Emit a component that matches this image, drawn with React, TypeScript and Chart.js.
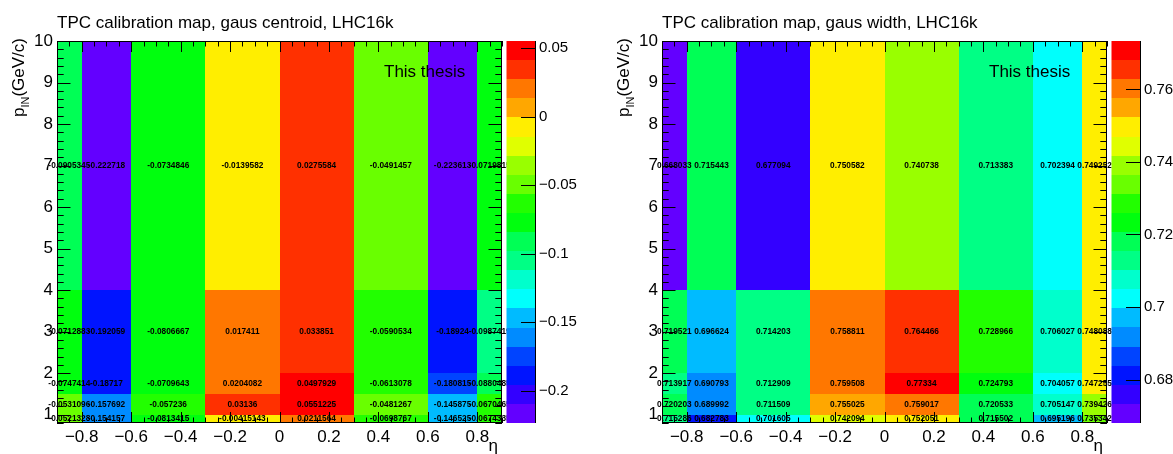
import React, { useEffect, useRef } from "react";
import { Chart, registerables } from "chart.js";

Chart.register(...registerables);

// ---- data ----
const etaEdges = [-0.9, -0.8, -0.6, -0.3, 0, 0.3, 0.6, 0.8, 0.9];
const pEdges = [0.8, 1, 1.5, 2, 4, 10];

// rows ordered from lowest p bin to highest, columns in eta order
const centroidRow0 = [-0.0521328, -0.154157, -0.0813415, -0.00415143, 0.0211564, -0.0698767, -0.146525, -0.0674335];
const centroidRow1 = [-0.0531096, -0.157692, -0.057236, 0.03136, 0.0551225, -0.0481267, -0.145875, -0.0670465];
const centroidRow2 = [-0.0747414, -0.18717, -0.0709643, 0.0204082, 0.0497929, -0.0613078, -0.180815, -0.0880485];
const centroidRow3 = [-0.0712883, -0.192059, -0.0806667, 0.017411, 0.033851, -0.0590534, -0.18924, -0.0987419];
const centroidRow4 = [-0.0905345, -0.222718, -0.0734846, -0.0139582, 0.0275584, -0.0491457, -0.223613, -0.0719815];

const widthRow0 = [0.715286, 0.682783, 0.701605, 0.742094, 0.752051, 0.715502, 0.695196, 0.735342];
const widthRow1 = [0.720203, 0.689992, 0.711509, 0.755025, 0.759017, 0.720533, 0.705147, 0.739426];
const widthRow2 = [0.713917, 0.690793, 0.712909, 0.759508, 0.77334, 0.724793, 0.704057, 0.747255];
const widthRow3 = [0.719521, 0.696624, 0.714203, 0.758811, 0.764466, 0.728966, 0.706027, 0.748088];
const widthRow4 = [0.668033, 0.715443, 0.677094, 0.750582, 0.740738, 0.713383, 0.702394, 0.749252];

const etaTicks = [-0.8, -0.6, -0.4, -0.2, 0, 0.2, 0.4, 0.6, 0.8];
const pTicks = [1, 2, 3, 4, 5, 6, 7, 8, 9, 10];
const centroidZTicks = [-0.2, -0.15, -0.1, -0.05, 0, 0.05];
const widthZTicks = [0.68, 0.7, 0.72, 0.74, 0.76];

const FONT = "'Liberation Sans', Arial, Helvetica, sans-serif";
const NCONT = 20;

function paletteColor(i: number) {
  const hue = 280 - (i + 1) * (280 / 50);
  return `hsl(${hue}, 100%, 50%)`;
}
function levelColor(k: number) {
  let idx = Math.floor((k + 0.99) * 50 / NCONT);
  if (idx > 49) idx = 49;
  if (idx < 0) idx = 0;
  return paletteColor(idx);
}
function zColor(z: number, zmin: number, zmax: number) {
  const k = Math.floor(0.01 + (z - zmin) * NCONT / (zmax - zmin));
  return levelColor(k);
}
function fmtG(v: number) {
  let s = v.toPrecision(6);
  if (s.indexOf(".") >= 0) s = s.replace(/0+$/, "").replace(/\.$/, "");
  return s;
}
function fmtTick(v: number) {
  const s = String(parseFloat(Number(v).toFixed(3)));
  return s === "-0" ? "0" : s.replace("-", "\u2212");
}

type PanelProps = {
  left: number;
  width: number;
  title: string;
  rows: number[][];
  zTicks: number[];
};

function Panel({ left, width, title, rows, zTicks }: PanelProps) {
  const ref = useRef<HTMLCanvasElement>(null);
  useEffect(() => {
    const all = rows.flat();
    const zmin = Math.min(...all);
    const zmax = Math.max(...all);
    const yAxisW = 57;
    const frameW = 445;
    const cbGap = 4.5;
    const cbW = 28.5;
    const zAxisW = width - yAxisW - frameW;

    const noPad = (s: any) => {
      s.paddingTop = 0;
      s.paddingBottom = 0;
      s.paddingLeft = 0;
      s.paddingRight = 0;
    };

    const drawPlugin = {
      id: "th2",
      afterDraw(chart: any) {
        const ctx = chart.ctx as CanvasRenderingContext2D;
        const ca = chart.chartArea;
        const xs = chart.scales.x;
        const ys = chart.scales.y;
        const zs = chart.scales.z;
        ctx.save();
        // cells
        for (let r = 0; r < rows.length; r++) {
          for (let c = 0; c < rows[r].length; c++) {
            const x0 = Math.round(xs.getPixelForValue(etaEdges[c]));
            const x1 = Math.round(xs.getPixelForValue(etaEdges[c + 1]));
            const y0 = Math.round(ys.getPixelForValue(pEdges[r + 1]));
            const y1 = Math.round(ys.getPixelForValue(pEdges[r]));
            ctx.fillStyle = zColor(rows[r][c], zmin, zmax);
            ctx.fillRect(x0, y0, x1 - x0, y1 - y0);
          }
        }
        // cell texts
        ctx.fillStyle = "#000";
        ctx.font = `bold 8.3px ${FONT}`;
        ctx.textAlign = "center";
        ctx.textBaseline = "middle";
        for (let r = 0; r < rows.length; r++) {
          for (let c = 0; c < rows[r].length; c++) {
            const xc = xs.getPixelForValue((etaEdges[c] + etaEdges[c + 1]) / 2);
            const yc = ys.getPixelForValue((pEdges[r] + pEdges[r + 1]) / 2);
            ctx.fillText(fmtG(rows[r][c]), xc, yc);
          }
        }
        // ticks
        ctx.strokeStyle = "#000";
        ctx.lineWidth = 1;
        ctx.beginPath();
        const xMaj = 11, xMin = 5.5, yMaj = 13.5, yMin = 6.7;
        for (let i = 0; i <= 36; i++) {
          const v = -0.9 + i * 0.05;
          const major = Math.abs(Math.round(v * 5) - v * 5) < 1e-6;
          const len = major ? xMaj : xMin;
          const px = Math.round(xs.getPixelForValue(v)) + 0.5;
          ctx.moveTo(px, ca.bottom);
          ctx.lineTo(px, ca.bottom - len);
          ctx.moveTo(px, ca.top);
          ctx.lineTo(px, ca.top + len);
        }
        for (let i = 0; i <= 46; i++) {
          const v = 0.8 + i * 0.2;
          const major = Math.abs(Math.round(v) - v) < 1e-6;
          const len = major ? yMaj : yMin;
          const py = Math.round(ys.getPixelForValue(v)) + 0.5;
          ctx.moveTo(ca.left, py);
          ctx.lineTo(ca.left + len, py);
          ctx.moveTo(ca.right, py);
          ctx.lineTo(ca.right - len, py);
        }
        ctx.stroke();
        // frame
        ctx.strokeRect(Math.round(ca.left) + 0.5, Math.round(ca.top) + 0.5,
          Math.round(ca.right) - Math.round(ca.left) - 1, Math.round(ca.bottom) - Math.round(ca.top) - 1);
        // colour bar
        const cbL = ca.right + cbGap;
        const cbR = cbL + cbW;
        const dz = (zmax - zmin) / NCONT;
        for (let k = 0; k < NCONT; k++) {
          const yTop = zs.getPixelForValue(zmin + (k + 1) * dz);
          const yBot = zs.getPixelForValue(zmin + k * dz);
          ctx.fillStyle = levelColor(k);
          ctx.fillRect(cbL, Math.round(yTop), cbW, Math.round(yBot) - Math.round(yTop));
        }
        ctx.beginPath();
        ctx.moveTo(Math.round(cbR) + 0.5, ca.top);
        ctx.lineTo(Math.round(cbR) + 0.5, ca.bottom);
        for (const t of zTicks) {
          const py = Math.round(zs.getPixelForValue(t)) + 0.5;
          ctx.moveTo(cbR, py);
          ctx.lineTo(cbR - 14, py);
        }
        ctx.stroke();
        // titles
        ctx.fillStyle = "#000";
        ctx.textBaseline = "alphabetic";
        ctx.textAlign = "left";
        ctx.font = `17px ${FONT}`;
        ctx.fillText(title, ca.left, 28);
        ctx.fillText("This thesis", ca.left + 327, 77);
        ctx.textAlign = "right";
        ctx.fillText("\u03b7", ca.right - 4, 451);
        // y axis title (rotated)
        ctx.save();
        ctx.translate(ca.left - 33, ca.top - 3);
        ctx.rotate(-Math.PI / 2);
        ctx.textAlign = "left";
        ctx.font = `17px ${FONT}`;
        const wP = ctx.measureText("p").width;
        const wRest = ctx.measureText("(GeV/c)").width;
        ctx.font = `11px ${FONT}`;
        const wSub = ctx.measureText("IN").width;
        let x = -(wP + wSub + wRest);
        ctx.font = `17px ${FONT}`;
        ctx.fillText("p", x, 0);
        x += wP;
        ctx.font = `11px ${FONT}`;
        ctx.fillText("IN", x, 5);
        x += wSub;
        ctx.font = `17px ${FONT}`;
        ctx.fillText("(GeV/c)", x, 0);
        ctx.restore();
        ctx.restore();
      },
    };

    const chart = new Chart(ref.current as HTMLCanvasElement, {
      type: "scatter",
      data: { datasets: [] },
      options: {
        animation: false,
        responsive: false,
        events: [],
        layout: { padding: { top: 41, left: 0, right: 0, bottom: 0 } },
        plugins: {
          legend: { display: false },
          tooltip: { enabled: false },
          title: { display: false },
        },
        scales: {
          x: {
            type: "linear",
            position: "bottom",
            min: -0.9,
            max: 0.9,
            grid: { display: false, drawTicks: false, tickLength: 0 },
            border: { display: false },
            afterBuildTicks: (s: any) => {
              s.ticks = etaTicks.map((v) => ({ value: v }));
            },
            afterFit: (s: any) => {
              s.height = 31;
              noPad(s);
            },
            ticks: {
              font: { family: FONT, size: 17 },
              color: "#000",
              padding: 4,
              maxRotation: 0,
              autoSkip: false,
              callback: (v: any) => fmtTick(v),
            },
          },
          y: {
            type: "linear",
            position: "left",
            min: 0.8,
            max: 10,
            grid: { display: false, drawTicks: false, tickLength: 0 },
            border: { display: false },
            afterBuildTicks: (s: any) => {
              s.ticks = pTicks.map((v) => ({ value: v }));
            },
            afterFit: (s: any) => {
              s.width = yAxisW;
              noPad(s);
            },
            ticks: {
              font: { family: FONT, size: 17 },
              color: "#000",
              padding: 4,
              autoSkip: false,
              callback: (v: any) => fmtTick(v),
            },
          },
          z: {
            axis: "y",
            type: "linear",
            position: "right",
            min: zmin,
            max: zmax,
            grid: { display: false, drawTicks: false, tickLength: 0 },
            border: { display: false },
            afterBuildTicks: (s: any) => {
              s.ticks = zTicks.map((v) => ({ value: v }));
            },
            afterFit: (s: any) => {
              s.width = zAxisW;
              noPad(s);
            },
            ticks: {
              font: { family: FONT, size: 15 },
              color: "#000",
              padding: cbGap + cbW + 4,
              autoSkip: false,
              callback: (v: any) => fmtTick(v),
            },
          },
        },
      } as any,
      plugins: [drawPlugin],
    });
    return () => chart.destroy();
  }, []);
  return (
    <canvas
      ref={ref}
      width={width}
      height={454}
      style={{ position: "absolute", left, top: 0, width, height: 454 }}
    />
  );
}

export default function App() {
  const centroidRows = [centroidRow0, centroidRow1, centroidRow2, centroidRow3, centroidRow4];
  const widthRows = [widthRow0, widthRow1, widthRow2, widthRow3, widthRow4];
  return (
    <div style={{ position: "absolute", left: 0, top: 0, width: 1173, height: 454, background: "#fff", overflow: "hidden" }}>
      <Panel left={0} width={592} title="TPC calibration map, gaus centroid, LHC16k" rows={centroidRows} zTicks={centroidZTicks} />
      <Panel left={605} width={568} title="TPC calibration map, gaus width, LHC16k" rows={widthRows} zTicks={widthZTicks} />
    </div>
  );
}
